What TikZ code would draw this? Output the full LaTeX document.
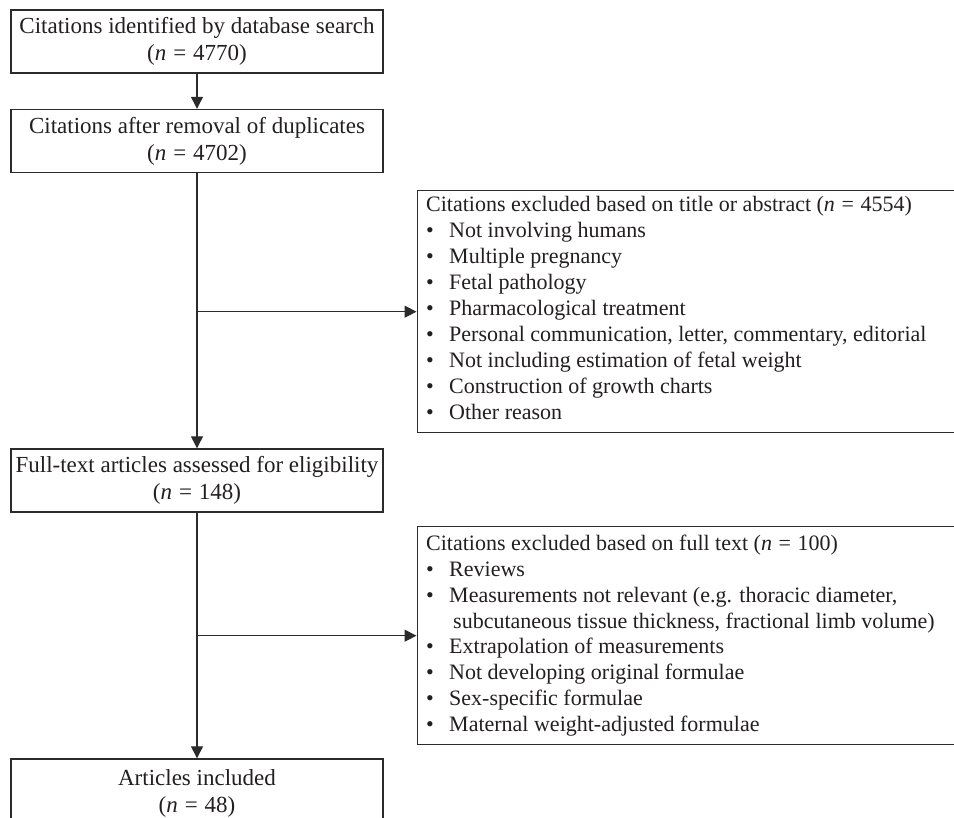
\documentclass[tikz,border=0pt]{standalone}
\usepackage{fontspec}
\setmainfont{Liberation Serif}
\usetikzlibrary{arrows.meta}
\definecolor{ink}{HTML}{231F20}
\definecolor{linec}{HTML}{2B2B2B}
\tikzset{
  mainbox/.style={draw=linec, line width=1.4pt, minimum width=372pt, minimum height=63pt,
    inner sep=0pt, align=center, text=ink, font=\fontsize{23}{27}\selectfont},
  exbox/.style={draw=linec, line width=1.4pt, minimum width=560pt, inner sep=0pt, anchor=north west},
  listtext/.style={inner sep=0pt, anchor=base west, text=ink, font=\fontsize{22}{26}\selectfont},
  arr/.style={draw=linec, line width=1.3pt, -{Triangle[length=12pt,width=12pt]}}
}
\newcommand{\bitem}[1]{\makebox[23pt][l]{\textbullet}#1}
\newcommand{\eqs}{\hspace{0.3em}=\hspace{0.3em}}
\begin{document}
\begin{tikzpicture}[x=1pt,y=-1pt]
\clip (0,0) rectangle (954,818);
\fill[white] (0,0) rectangle (954,818);

\node[mainbox] (b1) at (197,41.5) {Citations identified by database search\\(\textit{n}\eqs 4770)};
\node[mainbox] (b2) at (197,141) {Citations after removal of duplicates\\(\textit{n}\eqs 4702)};
\node[mainbox] (b3) at (197,480.5) {Full-text articles assessed for eligibility\\(\textit{n}\eqs 148)};
\node[mainbox, minimum height=68pt] (b4) at (197,793) {Articles included\\(\textit{n}\eqs 48)};

\node[exbox, minimum height=242pt] (e1) at (416.5,190) {};
\node[listtext] (t1) at (426,212) {\begin{tabular}[t]{@{}l@{}}
Citations excluded based on title or abstract (\textit{n}\eqs 4554)\\
\bitem{Not involving humans}\\
\bitem{Multiple pregnancy}\\
\bitem{Fetal pathology}\\
\bitem{Pharmacological treatment}\\
\bitem{Personal communication, letter, commentary, editorial}\\
\bitem{Not including estimation of fetal weight}\\
\bitem{Construction of growth charts}\\
\bitem{Other reason}
\end{tabular}};

\node[exbox, minimum height=218pt] (e2) at (416.5,526) {};
\node[listtext] (t2) at (426,550) {\begin{tabular}[t]{@{}l@{}}
Citations excluded based on full text (\textit{n}\eqs 100)\\
\bitem{Reviews}\\
\bitem{Measurements not relevant (e.g. thoracic diameter,}\\
\hspace{27pt}subcutaneous tissue thickness, fractional limb volume)\\
\bitem{Extrapolation of measurements}\\
\bitem{Not developing original formulae}\\
\bitem{Sex-specific formulae}\\
\bitem{Maternal weight-adjusted formulae}
\end{tabular}};

\draw[arr] (b1) -- (b2);
\draw[arr] (b2) -- (b3);
\draw[arr] (b3) -- (b4);
\draw[arr] (b2.south |- e1.west) -- (e1.west);
\draw[arr] (b3.south |- e2.west) -- (e2.west);
\end{tikzpicture}
\end{document}
